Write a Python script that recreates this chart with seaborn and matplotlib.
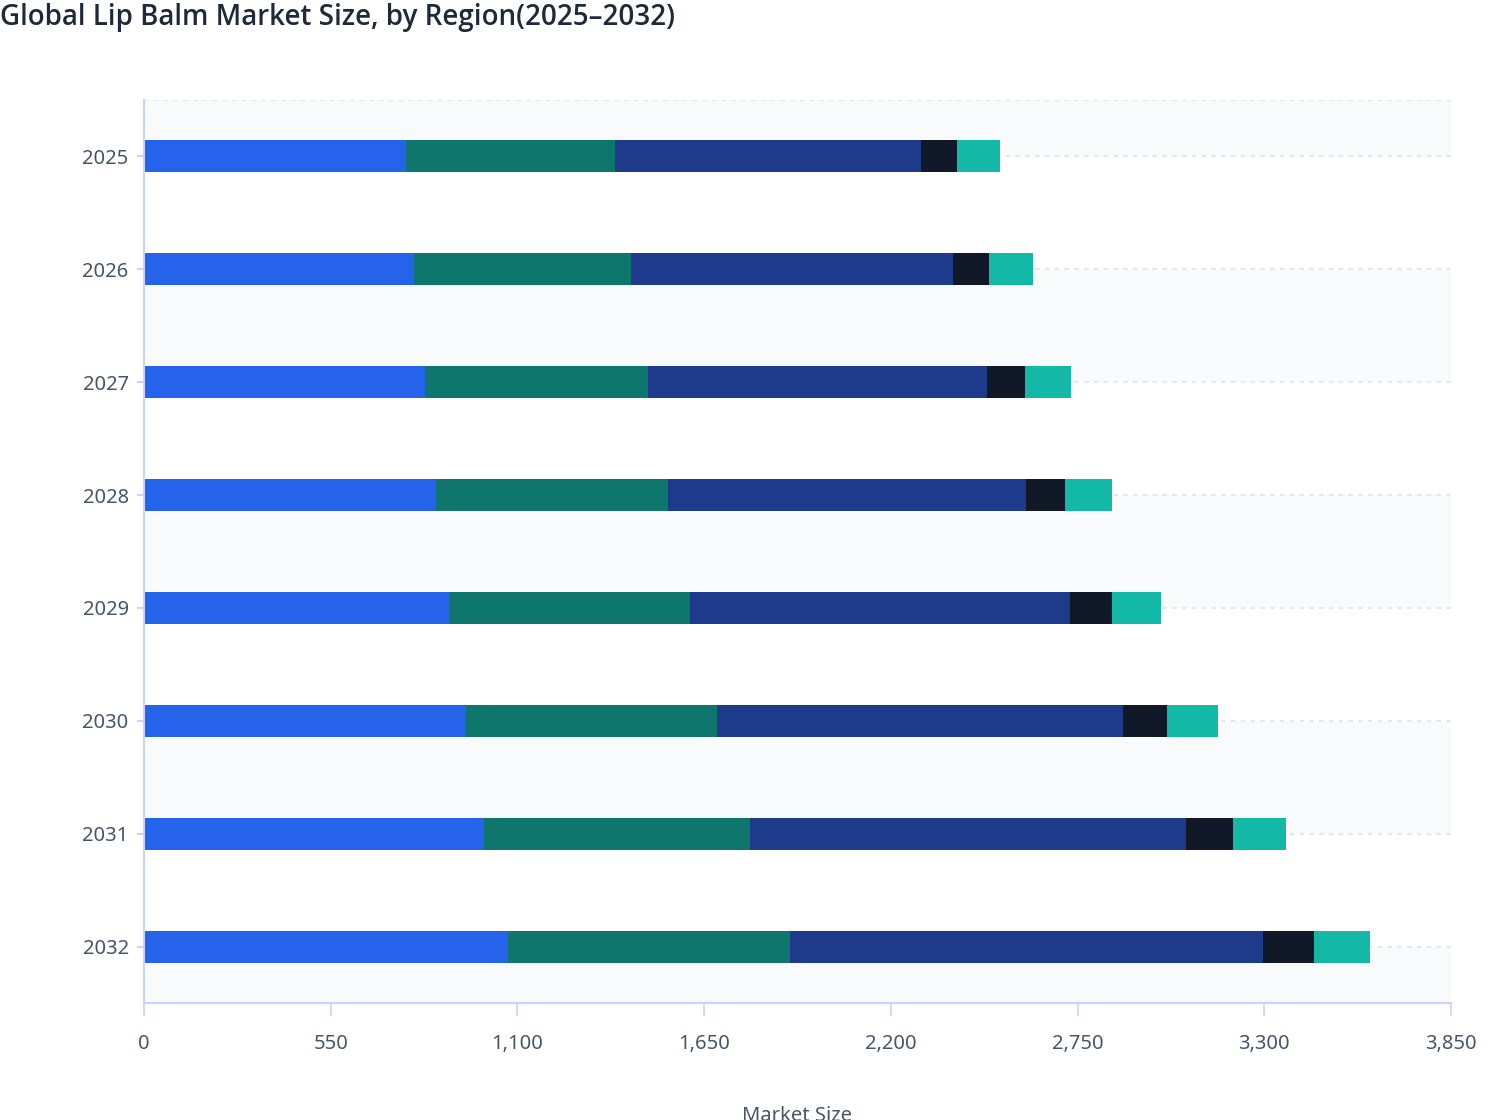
import matplotlib

matplotlib.use("Agg")
import matplotlib.pyplot as plt
import numpy as np
import pandas as pd
import seaborn as sns
from matplotlib.ticker import FuncFormatter, MultipleLocator

# values (market size per region, stacked)
years = ["2025", "2026", "2027", "2028", "2029", "2030", "2031", "2032"]
north_america = [772, 795, 828, 860, 901, 949, 1002, 1072]
europe = [616, 639, 657, 683, 707, 739, 784, 831]
asia_pacific = [901, 949, 999, 1055, 1119, 1196, 1284, 1393]
middle_east_africa = [106, 106, 112, 115, 124, 130, 139, 150]
latin_america = [127, 130, 135, 138, 144, 150, 156, 165]

regions = ["North America", "Europe", "Asia Pacific", "Middle East & Africa", "Latin America"]
colors = ["#2563eb", "#0f766e", "#1e3a8a", "#111827", "#14b8a6"]

AXIS_COLOR = "#c7d2fe"
TEXT_COLOR = "#475569"

sns.set_theme(style="white")
plt.rcParams["font.family"] = ["Noto Sans", "DejaVu Sans"]

df = pd.DataFrame(
    {
        "year": years,
        "North America": north_america,
        "Europe": europe,
        "Asia Pacific": asia_pacific,
        "Middle East & Africa": middle_east_africa,
        "Latin America": latin_america,
    }
)
cum = df[regions].cumsum(axis=1)

fig = plt.figure(figsize=(15.08, 11.2), dpi=100)
ax = fig.add_axes([144 / 1508, 1 - 1003 / 1120, (1451 - 144) / 1508, (1003 - 100) / 1120])

# alternating row bands, edges at category centres
for lo, hi in [(-0.5, 0), (1, 2), (3, 4), (5, 6), (7, 7.5)]:
    ax.axhspan(lo, hi, color="#f8fafc", zorder=0, lw=0)

# dashed row gridlines
ax.hlines(
    [-0.5] + list(range(len(years))),
    0,
    3850,
    colors="#e5e7eb",
    linewidth=1.5,
    linestyles=(0, (2.2, 2.5)),
    zorder=0.5,
)

# stacked bars: draw running totals from the widest layer down
for i in range(len(regions) - 1, -1, -1):
    sns.barplot(
        x=cum[regions[i]],
        y=df["year"],
        orient="h",
        color=colors[i],
        saturation=1,
        width=0.283,
        linewidth=0,
        ax=ax,
        zorder=2,
    )

ax.set_xlim(0, 3850)
ax.set_ylim(7.5, -0.5)
ax.xaxis.set_major_locator(MultipleLocator(550))
ax.xaxis.set_major_formatter(FuncFormatter(lambda v, _: f"{int(v):,}"))

for side in ["top", "right"]:
    ax.spines[side].set_visible(False)
for side in ["left", "bottom"]:
    ax.spines[side].set_color(AXIS_COLOR)
    ax.spines[side].set_linewidth(1.5)

ax.tick_params(axis="x", length=9, width=1.2, color=AXIS_COLOR, pad=13,
               labelsize=14.5, labelcolor=TEXT_COLOR, bottom=True)
ax.tick_params(axis="y", length=5, width=1.5, color=AXIS_COLOR, pad=6,
               labelsize=14.5, labelcolor=TEXT_COLOR, left=True)

ax.set_ylabel("")
ax.set_xlabel("Market Size", fontsize=14.5, color=TEXT_COLOR, labelpad=38)

fig.text(0.0, 1 - 18 / 1120, "Global Lip Balm Market Size, by Region(2025\u20132032)",
         fontsize=20, color="#1e293b", fontweight=600,
         family=["Open Sans", "Noto Sans", "DejaVu Sans"], ha="left", va="center")

fig.savefig("out.png", dpi=100)
